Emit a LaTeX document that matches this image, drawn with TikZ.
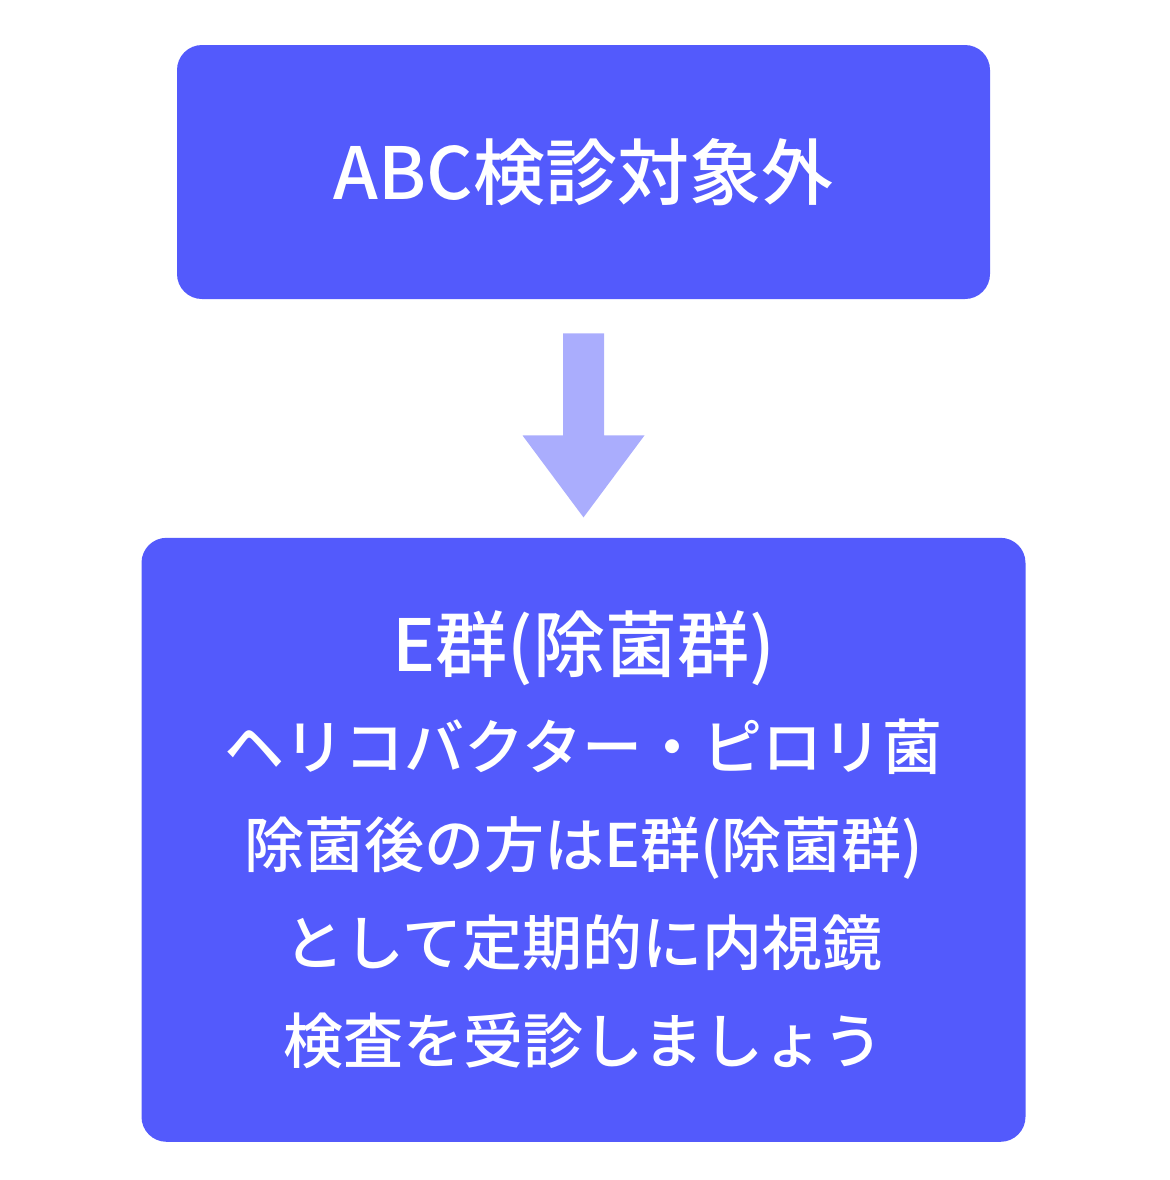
\documentclass[tikz,border=0pt]{standalone}
\usepackage{fontspec}
\setmainfont{Noto Sans CJK JP Medium}
\usetikzlibrary{calc,positioning}
\definecolor{boxblue}{HTML}{535AFC}
\definecolor{arrowblue}{HTML}{AAADFD}
\tikzset{
flow/.style={x=0.5pt,y=-0.5pt},
box/.style={rounded corners=12.5pt,fill=boxblue,text=white,align=center,
    inner sep=0pt},
bigarrow/.style={fill=arrowblue},
}

\begin{document}
\begin{tikzpicture}[flow]
    \useasboundingbox (0,0) rectangle (1170,1180);

    \node[box,minimum width=406.5pt,minimum height=127pt,
        font=\fontsize{36}{40}\selectfont] (top) at (583.5,172) {ABC検診対象外};
    \node[box,minimum width=442pt,minimum height=302pt,below=119pt of top,
        font=\fontsize{30}{49}\selectfont] (bottom)
        {{\fontsize{36}{49}\selectfont E群(除菌群)}\\
         ヘリコバクター・ピロリ菌\\
         除菌後の方はE群(除菌群)\\
         として定期的に内視鏡\\
         検査を受診しましょう};

    % block arrow between the boxes
    \fill[bigarrow] ($(top.south)+(-20.5,34)$) -- ($(top.south)+(20.5,34)$)
        -- ($(top.south)+(20.5,136)$) -- ($(top.south)+(61,136)$)
        -- ($(bottom.north)+(0,-20)$)
        -- ($(top.south)+(-61,136)$) -- ($(top.south)+(-20.5,136)$) -- cycle;
\end{tikzpicture}
\end{document}
